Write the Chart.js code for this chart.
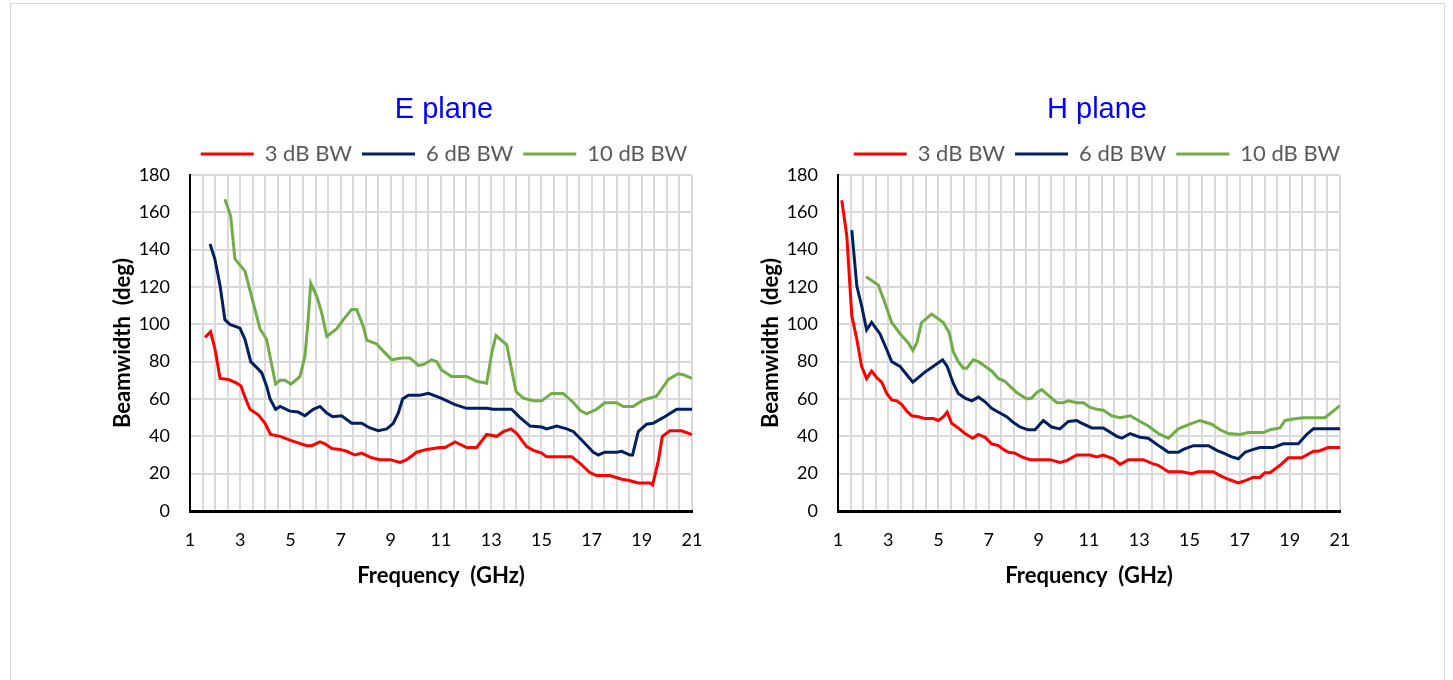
<!DOCTYPE html>
<html>
<head>
<meta charset="utf-8">
<script src="https://cdn.jsdelivr.net/npm/chart.js@4.4.1/dist/chart.umd.min.js"></script>
<style>
    body { margin: 0; background: #fff; }
    #frame { position: absolute; left: 10px; top: 3px; width: 1433px; height: 700px; border: 1px solid #d9d9d9; }
    .box { position: absolute; top: 80px; height: 509px; }
</style>
</head>
<body>
<div id="frame"></div>
<div class="box" style="left:95px; width:698px"><canvas id="eChart"></canvas></div>
<div class="box" style="left:743px; width:708px"><canvas id="hChart"></canvas></div>
<script>
// E plane, frequency (GHz) / beamwidth (deg)
const eFreq3 = [1.6, 1.82, 1.99, 2.2, 2.53, 2.86, 3.03, 3.19, 3.39, 3.72, 3.99, 4.21, 4.59, 4.98, 5.31, 5.65, 5.85, 6.18, 6.38, 6.65, 6.98, 7.24, 7.57, 7.84, 8.24, 8.57, 8.97, 9.37, 9.63, 10.03, 10.43, 10.96, 11.16, 11.56, 12.02, 12.42, 12.82, 13.22, 13.48, 13.79, 14.02, 14.41, 14.68, 15.01, 15.21, 16.21, 16.54, 16.94, 17.2, 17.73, 18.2, 18.46, 18.86, 19.33, 19.43, 19.66, 19.82, 20.12, 20.58, 21];
const eBw3 = [93, 96, 87, 71, 70.5, 68.5, 67, 61, 54.5, 51.5, 47, 41, 40, 38, 36.5, 35, 35, 37, 36, 33.5, 33, 32, 30, 31, 28.5, 27.5, 27.5, 26, 27.5, 31.5, 33, 34, 34, 37, 34, 34, 41, 40, 42.5, 44, 41.5, 34.5, 32.5, 31, 29, 29, 25.5, 20.5, 19, 19, 17, 16.5, 15, 15, 14, 27, 40, 43, 43, 41];
const eFreq6 = [1.8, 1.99, 2.2, 2.39, 2.59, 2.99, 3.19, 3.42, 3.72, 3.86, 4.05, 4.19, 4.41, 4.59, 4.98, 5.31, 5.58, 5.91, 6.18, 6.45, 6.69, 7.04, 7.44, 7.84, 8.17, 8.5, 8.84, 9.1, 9.3, 9.47, 9.7, 10.16, 10.5, 11.0, 11.56, 12.02, 12.82, 13.08, 13.81, 14.15, 14.55, 15.01, 15.21, 15.61, 16.01, 16.28, 16.68, 17.07, 17.27, 17.53, 18, 18.2, 18.53, 18.63, 18.86, 19.19, 19.45, 19.85, 20.39, 21];
const eBw6 = [143, 135, 120.5, 102.5, 100, 98, 92, 80, 76, 74, 67, 60, 54.5, 56, 53.5, 53, 51, 54.5, 56, 52.5, 50.5, 51, 47, 47, 44.5, 43, 44, 47, 52.5, 60, 62, 62, 63, 60.5, 57, 55, 55, 54.5, 54.5, 50, 45.5, 45, 44, 45.5, 44, 42.5, 37, 31.5, 30, 31.5, 31.5, 32, 30, 30, 42.5, 46.5, 47, 50, 54.5, 54.5];
const eFreq10 = [2.39, 2.62, 2.79, 3.19, 3.52, 3.79, 4.05, 4.41, 4.59, 4.78, 5.02, 5.38, 5.58, 5.71, 5.81, 6.05, 6.25, 6.45, 6.84, 7.11, 7.44, 7.64, 7.9, 8.04, 8.44, 8.71, 9.04, 9.44, 9.76, 10.1, 10.3, 10.63, 10.83, 11.02, 11.42, 12.02, 12.42, 12.82, 13.02, 13.19, 13.62, 13.81, 13.99, 14.28, 14.68, 15.01, 15.41, 15.87, 16.28, 16.54, 16.8, 17.2, 17.53, 18, 18.26, 18.66, 19.06, 19.59, 20.06, 20.45, 20.65, 21];
const eBw10 = [167, 158, 135, 128.5, 111.5, 97.5, 92, 68, 70, 70, 68, 72, 83, 102.5, 122, 115, 106, 93.5, 97.5, 102.5, 108, 108, 99, 91.5, 89.5, 85.5, 81, 82, 82, 78, 78.5, 81, 80, 75.5, 72, 72, 69.5, 68.5, 84.5, 94, 89, 76, 64, 60.5, 59, 59, 63, 63, 58, 54, 52, 54.5, 58, 58, 56, 56, 59.5, 61.5, 70.5, 73.5, 73, 71];

// H plane
const hFreq3 = [1.15, 1.35, 1.55, 1.75, 1.94, 2.14, 2.34, 2.54, 2.74, 2.94, 3.14, 3.34, 3.54, 3.74, 3.94, 4.2, 4.47, 4.8, 5.0, 5.2, 5.35, 5.53, 5.79, 6.06, 6.37, 6.59, 6.86, 7.12, 7.39, 7.59, 7.79, 8.05, 8.32, 8.65, 9.45, 9.84, 10.11, 10.51, 11.04, 11.31, 11.57, 11.97, 12.24, 12.57, 13.17, 13.5, 13.76, 14.16, 14.69, 15.09, 15.35, 15.95, 16.22, 16.55, 16.95, 17.28, 17.54, 17.81, 18.01, 18.21, 18.61, 18.94, 19.47, 19.67, 19.94, 20.14, 20.53, 21];
const hBw3 = [166.5, 147.5, 104.5, 92, 77.5, 71, 75, 71.5, 69, 63, 59.5, 59, 57, 53.5, 51, 50.5, 49.5, 49.5, 48.5, 50.5, 53, 47, 44.5, 41.5, 39, 41, 39.5, 36, 35, 33, 31.5, 31, 29, 27.5, 27.5, 26, 27, 30, 30, 29, 30, 28, 25, 27.5, 27.5, 25.5, 24.5, 21, 21, 20, 21, 21, 19, 17, 15, 16.5, 18, 18, 20.5, 20.5, 24.5, 28.5, 28.5, 30, 32, 32, 34, 34];
const hFreq6 = [1.55, 1.75, 1.94, 2.14, 2.34, 2.67, 2.94, 3.14, 3.47, 3.74, 3.98, 4.2, 4.47, 4.8, 5.17, 5.35, 5.59, 5.79, 6.06, 6.33, 6.59, 6.86, 7.12, 7.45, 7.72, 7.98, 8.25, 8.58, 8.85, 9.18, 9.51, 9.84, 10.18, 10.51, 10.64, 11.11, 11.57, 12.11, 12.31, 12.64, 13.03, 13.36, 13.83, 14.16, 14.56, 14.76, 15.16, 15.76, 16.09, 16.36, 16.69, 16.95, 17.22, 17.55, 17.81, 18.34, 18.74, 19.34, 19.67, 19.94, 21];
const hBw6 = [150.5, 120.5, 110, 97, 101, 95, 86.5, 80, 77.5, 73, 69, 71.5, 74.5, 77.5, 81, 77.5, 68.5, 63, 60.5, 59, 61, 58.5, 55, 52.5, 50.5, 47.5, 45, 43.5, 43.5, 48.5, 45, 44, 48, 48.5, 47.5, 44.5, 44.5, 40, 39, 41.5, 39.5, 39, 34.5, 31.5, 31.5, 33, 35, 35, 32.5, 31, 29, 28, 31.5, 33, 34, 34, 36, 36, 41, 44, 44];
const hFreq10 = [2.12, 2.61, 2.87, 3.14, 3.47, 3.8, 3.98, 4.14, 4.33, 4.73, 5.2, 5.43, 5.59, 5.79, 5.99, 6.13, 6.39, 6.59, 6.86, 7.12, 7.39, 7.65, 7.92, 8.12, 8.52, 8.72, 8.92, 9.12, 9.38, 9.72, 9.98, 10.18, 10.51, 10.78, 11.04, 11.31, 11.57, 11.9, 12.24, 12.64, 12.97, 13.36, 13.76, 14.16, 14.56, 15.02, 15.42, 15.89, 16.22, 16.55, 17.02, 17.35, 17.94, 18.21, 18.61, 18.81, 19.27, 19.54, 20.4, 20.73, 21];
const hBw10 = [125.5, 121, 111.5, 101, 95, 90, 86, 90, 101, 105.5, 101, 95.5, 85.5, 80, 76.5, 76.5, 81, 80, 77.5, 75, 71, 69.5, 66, 63.5, 60, 60.5, 63.5, 65, 62, 58, 58, 59, 58, 58, 55.5, 54.5, 54, 51, 50, 51, 48.5, 45.5, 41.5, 39, 44, 46.5, 48.5, 46.5, 43.5, 41.5, 41, 42, 42, 43.5, 44.5, 48.5, 49.5, 50, 50, 53.5, 56.5];

const seriesNames = ['3 dB BW', '6 dB BW', '10 dB BW'];
const seriesColors = ['#ff0000', '#002060', '#70ad47'];
const yTitle = 'Beamwidth  (deg)';
const xTitle = 'Frequency  (GHz)';

Chart.defaults.font.family = "Lato, 'Liberation Sans', sans-serif";

// rightGap: empty space right of the plot, so title and legend centre like the original
function buildChart(canvasId, titleText, freqs, values, rightGap) {
    var datasets = freqs.map(function (fr, k) {
        return {
            label: seriesNames[k],
            data: fr.map(function (f, i) { return {x: f, y: values[k][i]}; }),
            borderColor: seriesColors[k],
            backgroundColor: seriesColors[k],
            borderWidth: 3,
            pointRadius: 0,
            tension: 0
        };
    });

    var gridStyle = {color: '#d9d9d9', lineWidth: 2, drawTicks: false};

    return new Chart(document.getElementById(canvasId), {
        type: 'line',
        data: {datasets: datasets},
        options: {
            responsive: true,
            maintainAspectRatio: false,
            animation: false,
            layout: {padding: 0},
            plugins: {
                title: {
                    display: true,
                    text: titleText,
                    color: '#0000ff',
                    font: {family: "'Liberation Sans', Arial, sans-serif", size: 29, weight: 'normal'},
                    padding: {top: 12.6, bottom: 5.6}
                },
                legend: {
                    labels: {
                        usePointStyle: true,
                        pointStyle: 'line',
                        pointStyleWidth: 53,
                        color: '#595959',
                        font: {size: 22},
                        padding: 10
                    }
                },
                tooltip: {enabled: false}
            },
            scales: {
                x: {
                    type: 'linear',
                    min: 1,
                    max: 21,
                    ticks: {
                        stepSize: 0.5,
                        autoSkip: false,
                        maxRotation: 0,
                        padding: 18,
                        color: '#000',
                        font: {size: 18},
                        // labels only on 1, 3, 5 ... 21
                        callback: function (v) { return (v - 1) % 2 === 0 ? String(v) : ''; }
                    },
                    grid: gridStyle,
                    border: {color: '#000', width: 3},
                    title: {display: true, text: xTitle, color: '#000', font: {size: 22, weight: 'bold'}, padding: 0},
                    afterFit: function (s) { s.height = 78; }
                },
                y: {
                    min: 0,
                    max: 180,
                    ticks: {stepSize: 20, padding: 20, color: '#000', font: {size: 18}},
                    grid: gridStyle,
                    border: {color: '#000', width: 2},
                    title: {display: true, text: yTitle, color: '#000', font: {size: 22, weight: 'bold'}, padding: {top: 15, bottom: 0}},
                    afterFit: function (s) { s.width = 95; }
                },
                gap: {
                    position: 'right',
                    ticks: {display: false},
                    grid: {display: false},
                    border: {display: false},
                    afterFit: function (s) { s.width = rightGap; }
                }
            }
        }
    });
}

buildChart('eChart', 'E plane', [eFreq3, eFreq6, eFreq10], [eBw3, eBw6, eBw10], 101);
buildChart('hChart', 'H plane', [hFreq3, hFreq6, hFreq10], [hBw3, hBw6, hBw10], 111);
</script>
</body>
</html>
